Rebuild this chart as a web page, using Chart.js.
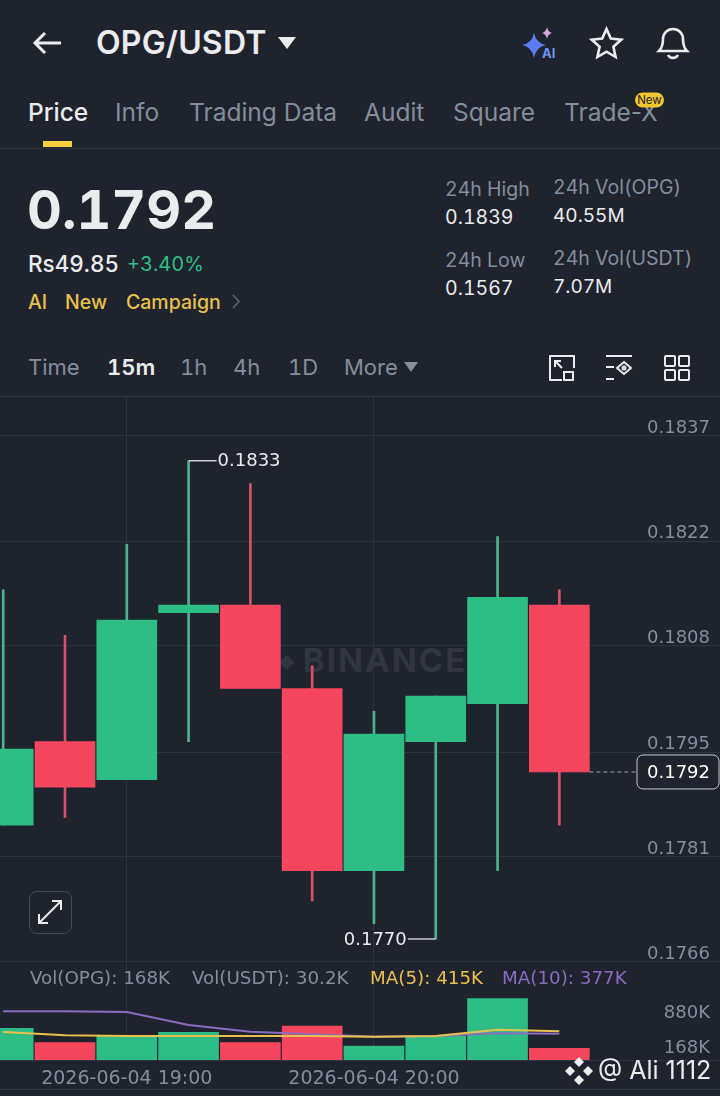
<!DOCTYPE html>
<html>
<head>
<meta charset="utf-8">
<title>OPG/USDT</title>
<script src="https://cdn.jsdelivr.net/npm/chart.js@4"></script>
<style>
    html, body { margin: 0; padding: 0; background: #1e232e; }
    body { position: relative; width: 720px; height: 1096px; overflow: hidden; font-family: Inter, "Noto Sans", sans-serif; font-variant-numeric: tabular-nums; color: #eaecef; }
    .t { position: absolute; white-space: nowrap; line-height: 1; transform: translateY(-50%); }
    .tab { font-variant-numeric: normal; font-size: 24.500px; top: 112px; }
    .grey { color: #848e9c; }
    .yellow { color: #e9c04c; }
    .rule { position: absolute; left: 0; width: 720px; height: 1px; background: #2f3541; }
    canvas { position: absolute; left: 0; }
    svg { position: absolute; overflow: visible; }
    #priceChart { top: 397px; }
    #volumeChart { top: 964px; }
    #watermark { position: absolute; left: 278px; top: 660px; transform: translateY(-50%); font-size: 33px; font-weight: 700; letter-spacing: 2px; color: #30353f; line-height: 1; white-space: nowrap; word-spacing: -5px; }
    #expandBtn { position: absolute; left: 29px; top: 891px; width: 41px; height: 41px; border: 1px solid #454b57; border-radius: 8px; background: #1e232e; }
    .vol { font-family: "DejaVu Sans", sans-serif; font-size: 18.300px; }
</style>
</head>
<body>
    <!-- header -->
    <svg style="left:33px;top:31px" width="29" height="24" fill="none" stroke="#eaecef" stroke-width="3"><path d="M28 12H2M12 2L2 12l10 10"/></svg>
    <div class="t" style="left:96px;top:43px;font-size:32px;font-weight:600;letter-spacing:0.2px">OPG/USDT</div>
    <svg style="left:278px;top:37px" width="18" height="12"><path d="M0 0h18L9 12z" fill="#eaecef"/></svg>
    <svg style="left:522px;top:27px" width="36" height="32">
        <path d="M12 6q2 10 12 12q-10 2-12 13q-2-11-12-13q10-2 12-12z" fill="#5b7df0"/>
        <path d="M25 0q1 5 5 6q-4 1-5 6q-1-5-5-6q4-1 5-6z" fill="#d9a6d8"/>
        <text x="20" y="31" font-size="13" font-weight="700" fill="#6f93f5" font-family="Inter">AI</text>
    </svg>
    <svg style="left:590px;top:27px" width="33" height="32" fill="none" stroke="#eaecef" stroke-width="2.6"><path d="M16.5 2l4.3 9.6 10.4 1.1-7.8 7 2.2 10.3-9.1-5.3-9.1 5.3 2.2-10.3-7.8-7 10.4-1.1z"/></svg>
    <svg style="left:657px;top:26px" width="32" height="34" fill="none" stroke="#eaecef" stroke-width="2.6"><path d="M2 25c3-3 4-6 4-12a10 10 0 0 1 20 0c0 6 1 9 4 12zM11 29a5.500 5 0 0 0 10 0"/></svg>

    <!-- tabs -->
    <div class="t tab" style="left:28px;font-weight:500">Price</div>
    <div class="t tab grey" style="left:115px">Info</div>
    <div class="t tab grey" style="left:189px">Trading Data</div>
    <div class="t tab grey" style="left:364px">Audit</div>
    <div class="t tab grey" style="left:453px">Square</div>
    <div class="t tab grey" style="left:564px">Trade-X</div>
    <div class="t" style="left:635px;top:100px;width:29px;height:15px;border-radius:8px;background:#f0c52e;color:#1e232e;font-size:11.500px;line-height:15px;text-align:center">New</div>
    <div style="position:absolute;left:43px;top:141px;width:29px;height:6px;background:#f5cf3d"></div>
    <div class="rule" style="top:148px"></div>

    <!-- ticker -->
    <div class="t" style="left:27px;top:210px;font-size:54px;font-weight:700">0.1792</div>
    <div class="t" style="left:28px;top:264px;font-size:22.500px;font-weight:500">Rs49.85</div>
    <div class="t" style="left:127px;top:264px;font-size:20px;color:#2ebd85">+3.40%</div>
    <div class="t yellow" style="left:28px;top:303px;font-size:19.500px;font-weight:500">AI</div>
    <div class="t yellow" style="left:65px;top:303px;font-size:19.500px;font-weight:500">New</div>
    <div class="t yellow" style="left:126px;top:303px;font-size:19.500px;font-weight:500">Campaign</div>
    <svg style="left:232px;top:294px" width="9" height="15" fill="none" stroke="#5c6370" stroke-width="1.600"><path d="M1 1l6 6.500-6 6.500"/></svg>

    <div class="t grey" style="left:445px;top:190px;font-size:19.500px">24h High</div>
    <div class="t" style="left:445px;top:218px;font-size:19.500px">0.1839</div>
    <div class="t grey" style="left:445px;top:261px;font-size:19.500px">24h Low</div>
    <div class="t" style="left:445px;top:289px;font-size:19.500px">0.1567</div>
    <div class="t grey" style="left:553px;top:188px;font-size:19.500px">24h Vol(OPG)</div>
    <div class="t" style="left:553px;top:215px;font-size:19px">40.55M</div>
    <div class="t grey" style="left:553px;top:259px;font-size:19.500px">24h Vol(USDT)</div>
    <div class="t" style="left:553px;top:286px;font-size:19px">7.07M</div>

    <!-- interval row -->
    <div class="t grey" style="left:28px;top:367px;font-size:22px">Time</div>
    <div class="t" style="left:107px;top:367px;font-size:22px;font-weight:600">15m</div>
    <div class="t grey" style="left:180px;top:367px;font-size:22px">1h</div>
    <div class="t grey" style="left:233px;top:367px;font-size:22px">4h</div>
    <div class="t grey" style="left:288px;top:367px;font-size:22px">1D</div>
    <div class="t grey" style="left:344px;top:367px;font-size:22px">More</div>
    <svg style="left:404px;top:362px" width="14" height="10"><path d="M0 0h14L7 10z" fill="#848e9c"/></svg>
    <svg style="left:549px;top:355px" width="26" height="26" fill="none" stroke="#eaecef" stroke-width="2"><path d="M13 25H1V1h24v12M6 6l7 7M6 12V6h6"/><rect x="15" y="17" width="9" height="8"/></svg>
    <svg style="left:605px;top:355px" width="28" height="26" fill="none" stroke="#eaecef" stroke-width="2"><path d="M1 1h26M1 12h8M1 24h8"/><path d="M19 7l7 6-7 6-7-6z"/><circle cx="19" cy="13" r="1.500"/></svg>
    <svg style="left:664px;top:355px" width="26" height="26" fill="none" stroke="#eaecef" stroke-width="2"><rect x="1" y="1" width="10" height="10" rx="1"/><rect x="15" y="1" width="10" height="10" rx="1"/><rect x="1" y="15" width="10" height="10" rx="1"/><rect x="15" y="15" width="10" height="10" rx="1"/></svg>
    <div class="rule" style="top:396px"></div>

    <!-- chart -->
    <div id="watermark"><span style="font-size:16px;vertical-align:4px">◆</span> BINANCE</div>
    <canvas id="priceChart" width="720" height="567"></canvas>
    <canvas id="volumeChart" width="720" height="132"></canvas>
    <div class="rule" style="top:1089px"></div>

    <div id="expandBtn"></div>
    <svg style="left:37px;top:899px" width="26" height="26" fill="none" stroke="#eaecef" stroke-width="2"><path d="M2 24L24 2M15 2h9v9M2 15v9h9"/></svg>

    <!-- volume legend -->
    <div class="t grey vol" style="left:30px;top:978px">Vol(OPG): 168K</div>
    <div class="t grey vol" style="left:192px;top:978px">Vol(USDT): 30.2K</div>
    <div class="t vol" style="left:370px;top:978px;color:#e9c04c">MA(5): 415K</div>
    <div class="t vol" style="left:502px;top:978px;color:#8b6cc0">MA(10): 377K</div>

    <!-- uploader mark -->
    <svg style="left:565px;top:1057px" width="28" height="28" fill="#eaecef"><path d="M14 0l5 5-5 5-5-5zM5 9l5 5-5 5-5-5zM23 9l5 5-5 5-5-5zM14 18l5 5-5 5-5-5z"/></svg>
    <div class="t" style="left:598px;top:1070px;font-size:25px;font-variant-numeric:normal;color:#eaecef">@ Ali 1112</div>

<script>
// 15m candles
const times = ['2026-06-04 18:30', '2026-06-04 18:45', '2026-06-04 19:00', '2026-06-04 19:15', '2026-06-04 19:30',
    '2026-06-04 19:45', '2026-06-04 20:00', '2026-06-04 20:15', '2026-06-04 20:30', '2026-06-04 20:45'];
const opens = [0.1785, 0.1796, 0.1791, 0.1813, 0.1814, 0.1803, 0.1779, 0.1796, 0.1801, 0.1814];
const highs = [0.1816, 0.1810, 0.1822, 0.1833, 0.1830, 0.1806, 0.1800, 0.1802, 0.1823, 0.1816];
const lows = [0.1785, 0.1786, 0.1791, 0.1796, 0.1814, 0.1775, 0.1772, 0.1770, 0.1779, 0.1785];
const closes = [0.1795, 0.1790, 0.1812, 0.1814, 0.1803, 0.1779, 0.1797, 0.1802, 0.1815, 0.1792];

const volumes = [457000, 250000, 346000, 400000, 250000, 490000, 202000, 346000, 885000, 168000];
const ma5 = [404000, 356000, 346000, 346000, 346000, 346000, 336000, 346000, 437000, 415000];
const ma10 = [703000, 703000, 693000, 505000, 408000, 371000, 336000, 346000, 385000, 377000];

const priceTicks = [0.17670, 0.17808, 0.17946, 0.18086, 0.18224, 0.18363];
const priceTickLabels = ['0.1766', '0.1781', '0.1795', '0.1808', '0.1822', '0.1837'];
const volumeTicks = [168000, 880000];
const volumeTickLabels = [['168K'], ['', '880K']];
const timeTicks = [2, 6];

const green = '#2ebd85';
const red = '#f6465d';
const wickGreen = '#4db38e';
const wickRed = '#d65268';
const gridColor = '#2d3340';
const axisText = '#848e9c';
const axisFont = '"DejaVu Sans", sans-serif';

// Same horizontal window for both panels, candle 0 sits at x = 3
const xMin = -0.052;
const xMax = 11.6;

function candleColors(up, down) {
    return closes.map((c, i) => c >= opens[i] ? up : down);
}

// Mirrored and hand-picked ticks should not push the chart area in
function noPadding(scale) {
    scale.paddingTop = 0;
    scale.paddingBottom = 0;
    scale.paddingLeft = 0;
    scale.paddingRight = 0;
}

function xScale(showLabels) {
    return {
        type: 'linear',
        offset: false,
        bounds: 'data',
        min: xMin,
        max: xMax,
        afterBuildTicks: (scale) => { scale.ticks = timeTicks.map(v => ({ value: v })); },
        afterFit: noPadding,
        grid: { color: gridColor, drawTicks: false, offset: false },
        border: { display: false },
        ticks: {
            display: showLabels,
            autoSkip: false,
            maxRotation: 0,
            padding: 8,
            color: axisText,
            font: { family: axisFont, size: 19 },
            callback: (v) => times[v]
        }
    };
}

function yAxisFit(scale) {
    noPadding(scale);
    scale.width = 0;
}

// High/low leaders and the last price tag
const priceMarkers = {
    id: 'priceMarkers',
    afterDatasetsDraw(chart) {
        const { ctx, scales: { x, y } } = chart;
        const iHigh = highs.indexOf(Math.max(...highs));
        const iLow = lows.indexOf(Math.min(...lows));
        const last = closes.length - 1;

        ctx.save();
        ctx.font = '18px ' + axisFont;
        ctx.textBaseline = 'middle';
        ctx.lineWidth = 1.5;
        ctx.strokeStyle = '#c9ccd2';
        ctx.fillStyle = '#eaecef';

        const hx = x.getPixelForValue(iHigh);
        const hy = y.getPixelForValue(highs[iHigh]);
        ctx.beginPath();
        ctx.moveTo(hx, hy);
        ctx.lineTo(hx + 28, hy);
        ctx.stroke();
        ctx.textAlign = 'left';
        ctx.fillText(highs[iHigh].toFixed(4), hx + 29, hy + 1);

        const lx = x.getPixelForValue(iLow);
        const ly = y.getPixelForValue(lows[iLow]);
        ctx.beginPath();
        ctx.moveTo(lx, ly);
        ctx.lineTo(lx - 28, ly);
        ctx.stroke();
        ctx.textAlign = 'right';
        ctx.fillText(lows[iLow].toFixed(4), lx - 29, ly + 1);

        const cx = x.getPixelForValue(last) + 30;
        const cy = y.getPixelForValue(closes[last]);
        ctx.strokeStyle = '#9aa0aa';
        ctx.lineWidth = 1;
        ctx.setLineDash([4, 3]);
        ctx.beginPath();
        ctx.moveTo(cx, cy);
        ctx.lineTo(636, cy);
        ctx.stroke();
        ctx.setLineDash([]);

        ctx.strokeStyle = '#c9ccd2';
        ctx.fillStyle = '#1e232e';
        ctx.beginPath();
        ctx.roundRect(637, cy - 17, 82, 34, 6);
        ctx.fill();
        ctx.stroke();
        ctx.fillStyle = '#ffffff';
        ctx.textAlign = 'right';
        ctx.fillText(closes[last].toFixed(4), 710, cy + 1);
        ctx.restore();
    }
};

function initPriceChart() {
    new Chart(document.getElementById('priceChart'), {
        type: 'bar',
        data: {
            datasets: [
                {
                    label: 'Body',
                    data: times.map((t, i) => ({ x: i, y: [opens[i], closes[i]] })),
                    backgroundColor: candleColors(green, red),
                    barThickness: 60,
                    grouped: false,
                    order: 1
                },
                {
                    label: 'Wick',
                    data: times.map((t, i) => ({ x: i, y: [lows[i], highs[i]] })),
                    backgroundColor: candleColors(wickGreen, wickRed),
                    barThickness: 2,
                    grouped: false,
                    order: 2
                }
            ]
        },
        options: {
            responsive: false,
            animation: false,
            layout: { padding: 0 },
            plugins: { legend: { display: false }, tooltip: { enabled: false } },
            scales: {
                x: xScale(false),
                y: {
                    position: 'right',
                    bounds: 'data',
                    min: 0.17667,
                    max: 0.18414,
                    afterBuildTicks: (scale) => { scale.ticks = priceTicks.map(v => ({ value: v })); },
                    afterFit: yAxisFit,
                    grid: { color: gridColor, drawTicks: false },
                    border: { display: false },
                    ticks: {
                        mirror: true,
                        padding: -10,
                        autoSkip: false,
                        color: axisText,
                        font: { family: axisFont, size: 18, lineHeight: '15px' },
                        // blank second line lifts the label above its grid line
                        callback: (v, i) => [priceTickLabels[i], '']
                    }
                }
            }
        },
        plugins: [priceMarkers]
    });
}

function initVolumeChart() {
    const x = xScale(true);
    x.border = { display: true, color: gridColor };
    x.afterFit = (scale) => {
        noPadding(scale);
        scale.height = 36;
    };

    new Chart(document.getElementById('volumeChart'), {
        type: 'bar',
        data: {
            datasets: [
                {
                    type: 'line',
                    label: 'MA(10)',
                    data: times.map((t, i) => ({ x: i, y: ma10[i] })),
                    borderColor: '#8b6cc0',
                    borderWidth: 2,
                    pointRadius: 0,
                    order: 1
                },
                {
                    type: 'line',
                    label: 'MA(5)',
                    data: times.map((t, i) => ({ x: i, y: ma5[i] })),
                    borderColor: '#e9c04c',
                    borderWidth: 2,
                    pointRadius: 0,
                    order: 0
                },
                {
                    label: 'Vol',
                    data: times.map((t, i) => ({ x: i, y: volumes[i] })),
                    backgroundColor: candleColors(green, red),
                    barThickness: 60,
                    grouped: false,
                    order: 2
                }
            ]
        },
        options: {
            responsive: false,
            animation: false,
            layout: { padding: 0 },
            plugins: { legend: { display: false }, tooltip: { enabled: false } },
            scales: {
                x: x,
                y: {
                    position: 'right',
                    bounds: 'data',
                    min: 0,
                    max: 1385000,
                    afterBuildTicks: (scale) => { scale.ticks = volumeTicks.map(v => ({ value: v })); },
                    afterFit: yAxisFit,
                    grid: { display: false, drawTicks: false },
                    border: { display: false },
                    ticks: {
                        mirror: true,
                        padding: -10,
                        autoSkip: false,
                        color: axisText,
                        font: { family: axisFont, size: 18, lineHeight: '28px' },
                        callback: (v, i) => volumeTickLabels[i]
                    }
                }
            }
        }
    });
}

document.addEventListener('DOMContentLoaded', function() {
    initPriceChart();
    initVolumeChart();
});
</script>
</body>
</html>
